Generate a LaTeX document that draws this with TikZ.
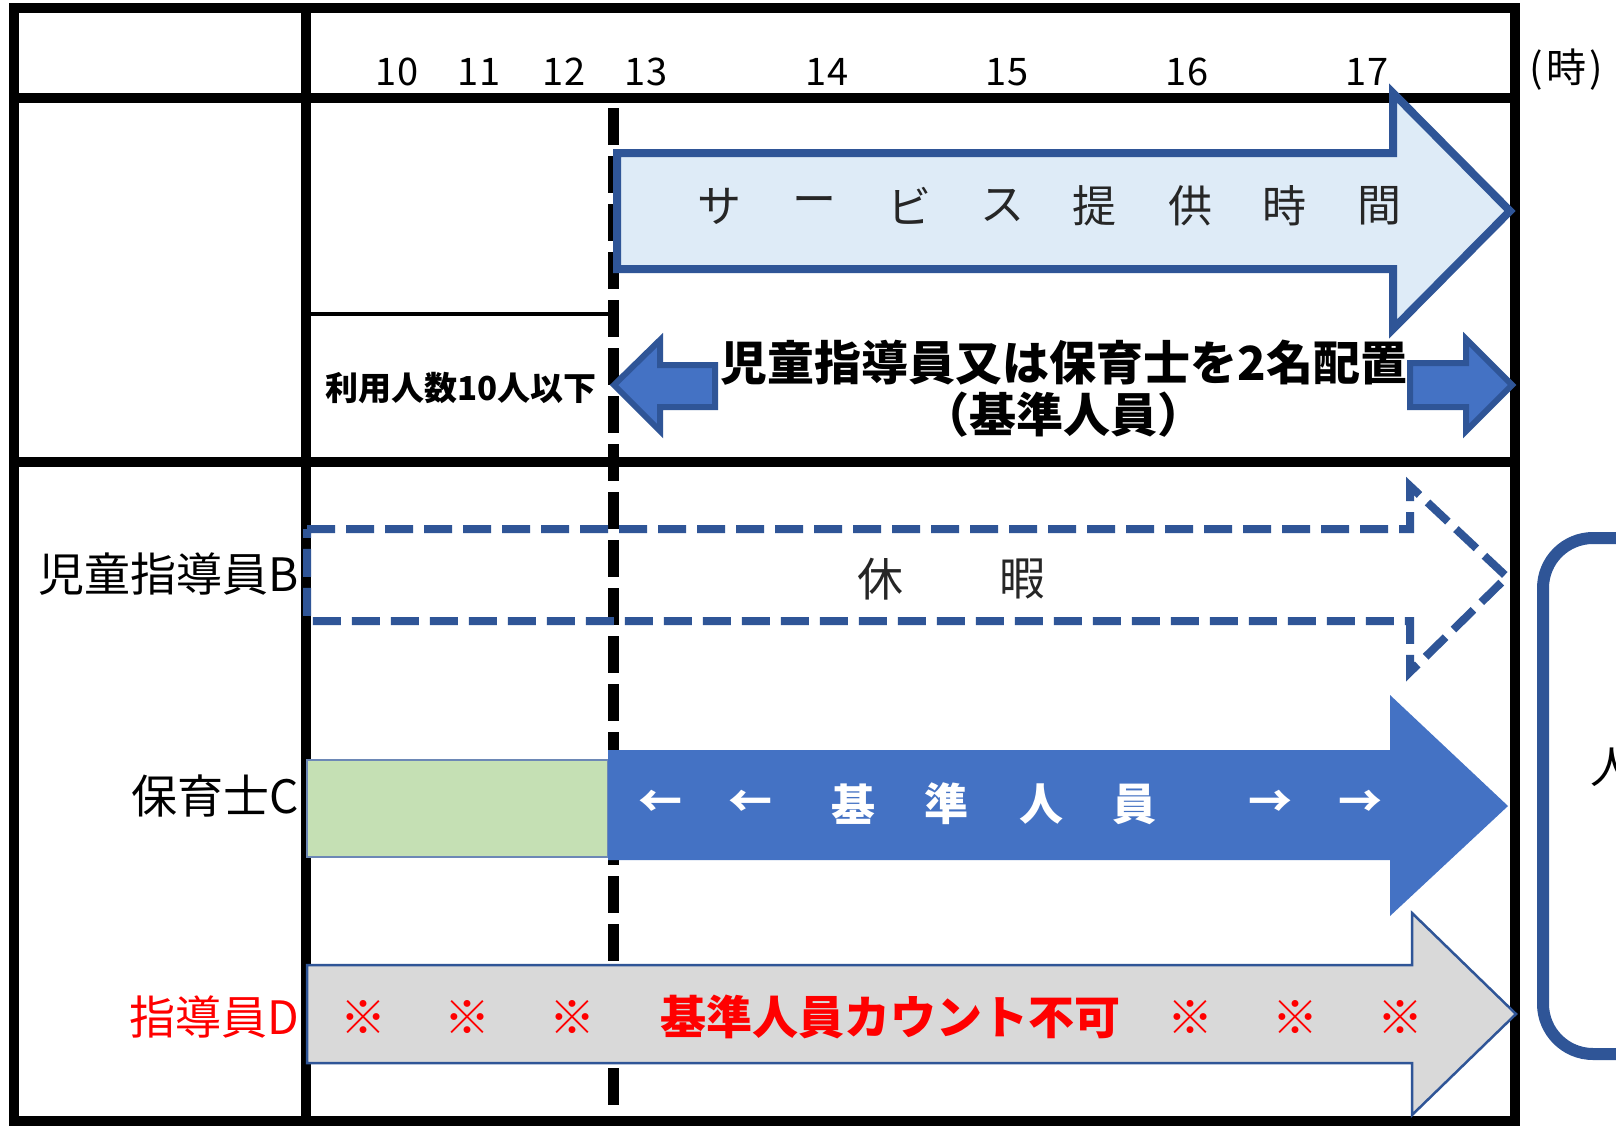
\documentclass[tikz,border=0pt]{standalone}
\usepackage{fontspec}
\setmainfont{Noto Sans CJK JP}
\definecolor{navy}{HTML}{2F5597}
\definecolor{lightblue}{HTML}{DEEBF7}
\definecolor{midblue}{HTML}{4472C4}
\definecolor{greenfill}{HTML}{C5E0B4}
\definecolor{greyfill}{HTML}{D9D9D9}
\definecolor{redtext}{HTML}{FF0000}
\begin{document}
\begin{tikzpicture}[x=1pt,y=-1pt,
  every node/.style={inner sep=0pt, outer sep=0pt},
  frame/.style={line width=10pt, black},
  thinrule/.style={line width=4pt, black},
  vdash/.style={line width=11pt, black, dash pattern=on 37pt off 11pt},
  hour/.style={font=\fontsize{38}{40}\selectfont},
  svc/.style={font=\fontsize{44}{46}\selectfont, text=black!85},
  boldtxt/.style={font=\fontsize{47}{49}\selectfont\bfseries},
  rowlabel/.style={font=\fontsize{46}{48}\selectfont, anchor=east},
  whitetxt/.style={font=\fontsize{44}{46}\selectfont\bfseries, text=white},
  redtxt/.style={font=\fontsize{46}{48}\selectfont\bfseries, text=redtext},
  darkarrow/.style={line width=6pt, draw=navy, fill=midblue, line join=miter}
]
\clip (0,0) rectangle (1616,1125);
\fill[white] (0,0) rectangle (1616,1125);

% table lines
\draw[frame] (14,7.5) rectangle (1515,1121);
\draw[frame] (306,7.5) -- (306,1125);
\draw[frame] (14,98) -- (1515,98);
\draw[frame] (14,462) -- (1515,462);
\draw[thinrule] (306,314) -- (613,314);
\draw[vdash] (613,108) -- (613,1125);

% hours
\node[hour] (h10) at (397,72) {10};
\node[hour] (h11) at (479,72) {11};
\node[hour] (h12) at (564,72) {12};
\node[hour] (h13) at (646,72) {13};
\node[hour] (h14) at (827,72) {14};
\node[hour] (h15) at (1007,72) {15};
\node[hour] (h16) at (1187,72) {16};
\node[hour] (h17) at (1367,72) {17};
\node[font=\fontsize{40}{42}\selectfont] (unit) at (1566,70) {(\hspace{3pt}時\hspace{3pt})};

% service time arrow
\draw[line width=8pt, draw=navy, fill=lightblue, line join=miter]
  (617,153) -- (1393,153) -- (1393,93) -- (1510,211) -- (1393,329) -- (1393,269) -- (617,269) -- cycle;
\node[svc] (s1) at (719,206) {サ};
\node[svc] (s2) at (814,206) {ー};
\node[svc] (s3) at (909,206) {ビ};
\node[svc] (s4) at (1002,206) {ス};
\node[svc] (s5) at (1094,206) {提};
\node[svc] (s6) at (1190,206) {供};
\node[svc] (s7) at (1284,206) {時};
\node[svc] (s8) at (1379,206) {間};

% staffing arrows
\draw[darkarrow] (614,385) -- (660,340) -- (660,365) -- (715,365) -- (715,407) -- (660,407) -- (660,431) -- cycle;
\draw[darkarrow] (1410,363) -- (1466,363) -- (1466,339) -- (1512,385) -- (1466,431) -- (1466,407) -- (1410,407) -- cycle;
\node[boldtxt] (req) at (1064,363) {児童指導員又は保育士を2名配置};
\node[boldtxt] (req2) at (1063,415) {（基準人員）};
\node[font=\fontsize{33}{35}\selectfont\bfseries] (small) at (461,388) {利用人数10人以下};

% row labels
\node[rowlabel] (lb) at (299,574) {児童指導員B};
\node[rowlabel] (lc) at (299,796) {保育士C};
\node[rowlabel, text=redtext] (ld) at (299,1017) {指導員D};

% B: holiday (dashed arrow)
\draw[navy, line width=8pt, dash pattern=on 28pt off 11pt, line join=miter]
  (307,529) -- (1410,529) -- (1410,486) -- (1507,577) -- (1410,672) -- (1410,621) -- (307,621) -- cycle;
\node[svc, font=\fontsize{46}{48}\selectfont] (k1) at (880,579) {休};
\node[svc, font=\fontsize{46}{48}\selectfont] (k2) at (1022,579) {暇};

% C
\draw[fill=greenfill, draw=navy!70, line width=2pt] (307,760) rectangle (608,857);
\fill[midblue] (608,750) -- (1390,750) -- (1390,695) -- (1508,806) -- (1390,916) -- (1390,860) -- (608,860) -- cycle;
\node[whitetxt] (c1) at (660,804) {←};
\node[whitetxt] (c2) at (750,804) {←};
\node[whitetxt] (c3) at (853,804) {基};
\node[whitetxt] (c4) at (946,804) {準};
\node[whitetxt] (c5) at (1041,804) {人};
\node[whitetxt] (c6) at (1134,804) {員};
\node[whitetxt] (c7) at (1270,804) {→};
\node[whitetxt] (c8) at (1360,804) {→};

% D
\draw[fill=greyfill, draw=navy, line width=2.5pt, line join=miter]
  (307,965) -- (1412,965) -- (1412,913) -- (1516,1014) -- (1412,1115) -- (1412,1063) -- (307,1063) -- cycle;
\node[redtxt] (d1) at (363,1017) {※};
\node[redtxt] (d2) at (467,1017) {※};
\node[redtxt] (d3) at (572,1017) {※};
\node[redtxt] (d4) at (890,1017) {基準人員カウント不可};
\node[redtxt] (d5) at (1190,1017) {※};
\node[redtxt] (d6) at (1295,1017) {※};
\node[redtxt] (d7) at (1400,1017) {※};

% right bracket box (cut off)
\draw[navy, line width=12pt, rounded corners=50pt] (1543,538) rectangle (1720,1054);
\node[font=\fontsize{44}{46}\selectfont] (side) at (1612,767) {人};
\end{tikzpicture}
\end{document}
